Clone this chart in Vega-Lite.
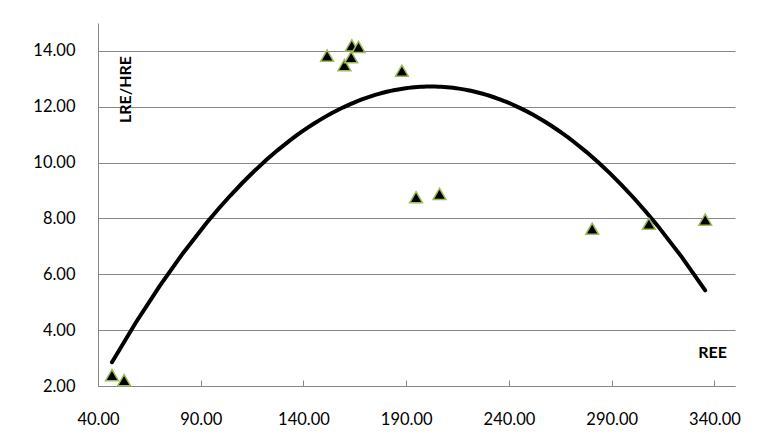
{
  "$schema": "https://vega.github.io/schema/vega-lite/v6.json",
  "width": 637,
  "height": 363,
  "autosize": {"type": "none"},
  "padding": {"left": 98, "top": 23, "right": 45, "bottom": 49},
  "background": "white",
  "config": {
    "view": {"stroke": null},
    "font": "Lato",
    "axis": {
      "labelFont": "Lato",
      "labelFontSize": 16.5,
      "labelColor": "#000000",
      "titleFont": "Lato",
      "titleFontSize": 16,
      "titleFontWeight": "bold",
      "titleColor": "#000000",
      "domainColor": "#868686",
      "gridColor": "#868686",
      "tickColor": "#868686",
      "labelFlush": false,
      "labelOverlap": false,
      "labelBound": false
    }
  },
  "data": {
    "values": [
      {"REE": 46.8, "LRE_HRE": 2.39},
      {"REE": 52.7, "LRE_HRE": 2.21},
      {"REE": 151.5, "LRE_HRE": 13.83},
      {"REE": 159.9, "LRE_HRE": 13.49},
      {"REE": 163.2, "LRE_HRE": 13.78},
      {"REE": 163.5, "LRE_HRE": 14.2},
      {"REE": 166.8, "LRE_HRE": 14.14},
      {"REE": 187.9, "LRE_HRE": 13.29},
      {"REE": 194.8, "LRE_HRE": 8.76},
      {"REE": 206.2, "LRE_HRE": 8.88},
      {"REE": 280.5, "LRE_HRE": 7.63},
      {"REE": 308.1, "LRE_HRE": 7.81},
      {"REE": 335.5, "LRE_HRE": 7.96}
    ]
  },
  "layer": [
    {
      "mark": {"type": "line", "color": "#000000", "strokeWidth": 4, "strokeCap": "round"},
      "transform": [
        {"regression": "LRE_HRE", "on": "REE", "method": "poly", "order": 2}
      ],
      "encoding": {
        "x": {"field": "REE", "type": "quantitative"},
        "y": {"field": "LRE_HRE", "type": "quantitative"}
      }
    },
    {
      "mark": {
        "type": "point",
        "shape": "triangle-up",
        "filled": true,
        "size": 165,
        "fill": "#000000",
        "stroke": "#9BBB59",
        "strokeWidth": 1.5,
        "opacity": 1
      },
      "encoding": {
        "x": {
          "field": "REE",
          "type": "quantitative",
          "scale": {"domain": [40, 350], "nice": false, "zero": false},
          "axis": {
            "title": "REE",
            "titleX": 614,
            "titleY": -34,
            "titleAnchor": null,
            "titleAlign": "center",
            "titleBaseline": "middle",
            "values": [40, 90, 140, 190, 240, 290, 340],
            "format": ".2f",
            "grid": false,
            "ticks": true,
            "tickSize": -6,
            "labelPadding": 31
          }
        },
        "y": {
          "field": "LRE_HRE",
          "type": "quantitative",
          "scale": {"domain": [2, 15], "nice": false, "zero": false},
          "axis": {
            "title": "LRE/HRE",
            "titleX": 27,
            "titleY": 66,
            "titleAngle": 270,
            "titleAlign": "center",
            "titleBaseline": "middle",
            "values": [2, 4, 6, 8, 10, 12, 14],
            "format": ".2f",
            "grid": true,
            "ticks": false,
            "labelPadding": 23
          }
        }
      }
    }
  ]
}
